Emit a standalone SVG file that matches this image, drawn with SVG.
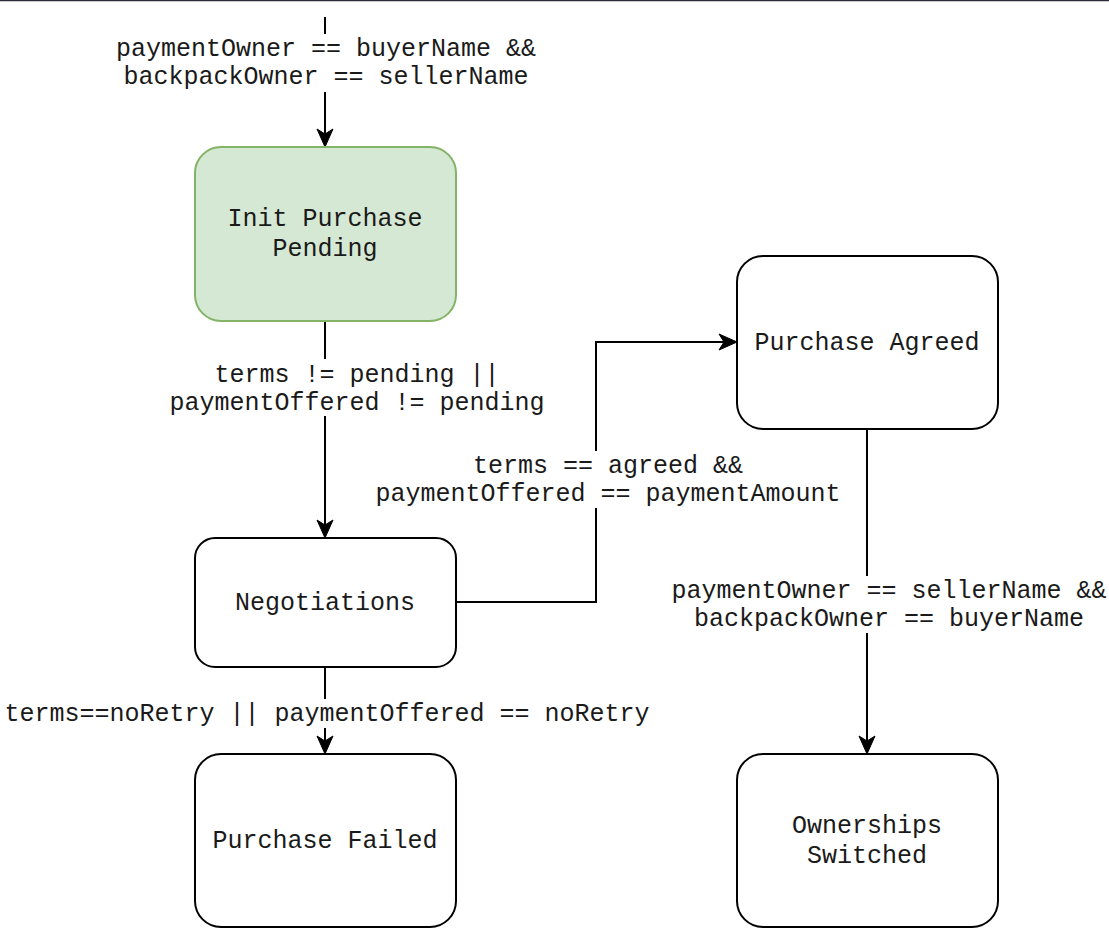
<svg xmlns="http://www.w3.org/2000/svg" width="1109" height="928" viewBox="0 0 1109 928">
<style>
text{font-family:"Liberation Mono","Courier New",monospace;font-size:25px;fill:#1a1a1a;text-anchor:middle}
.node{fill:#ffffff;stroke:#000000;stroke-width:2}
.green{fill:#d5e8d4;stroke:#82b366;stroke-width:2}
.edge{fill:none;stroke:#000000;stroke-width:2}
.lbl{fill:#ffffff;stroke:none}
.head{fill:#000000;stroke:#000000;stroke-width:1}
</style>
<defs>
<path id="ah" d="M0,0 L-8,-18 L0,-13 L8,-18 Z"/>
</defs>
<rect x="0" y="0" width="1109" height="928" fill="#ffffff"/>
<line x1="0" y1="0.5" x2="1109" y2="0.5" stroke="#2b2b3a" stroke-width="1.5"/>
<g id="connectors">
<g id="e-start">
<path class="edge" d="M325,17 L325,136"/>
<use href="#ah" class="head" transform="translate(325,147)"/>
<rect class="lbl" x="110" y="34" width="430" height="58"/>
<text x="326" y="56">paymentOwner == buyerName &amp;&amp;</text>
<text x="326" y="84">backpackOwner == sellerName</text>
</g>
<g id="e-init-neg">
<path class="edge" d="M325,321 L325,527"/>
<use href="#ah" class="head" transform="translate(325,538)"/>
<rect class="lbl" x="165" y="359" width="385" height="57"/>
<text x="357" y="382">terms != pending ||</text>
<text x="357" y="410">paymentOffered != pending</text>
</g>
<g id="e-neg-agreed">
<path class="edge" d="M456,602 L596,602 L596,342 L726,342"/>
<use href="#ah" class="head" transform="translate(737,342) rotate(-90)"/>
<rect class="lbl" x="370" y="451" width="476" height="57"/>
<text x="608" y="473">terms == agreed &amp;&amp;</text>
<text x="608" y="501">paymentOffered == paymentAmount</text>
</g>
<g id="e-neg-failed">
<path class="edge" d="M325,667 L325,743"/>
<use href="#ah" class="head" transform="translate(325,754)"/>
<rect class="lbl" x="0" y="699" width="656" height="29"/>
<text x="327" y="721">terms==noRetry || paymentOffered == noRetry</text>
</g>
<g id="e-agreed-switched">
<path class="edge" d="M867,429 L867,743"/>
<use href="#ah" class="head" transform="translate(867,754)"/>
<rect class="lbl" x="668" y="576" width="441" height="57"/>
<text x="889" y="598">paymentOwner == sellerName &amp;&amp;</text>
<text x="889" y="626">backpackOwner == buyerName</text>
</g>
</g>
<g id="init">
<rect class="green" x="195" y="147" width="261" height="174" rx="26"/>
<text x="325" y="226">Init Purchase</text>
<text x="325" y="256">Pending</text>
</g>
<g id="agreed">
<rect class="node" x="737" y="256" width="261" height="173" rx="26"/>
<text x="867" y="350">Purchase Agreed</text>
</g>
<g id="negotiations">
<rect class="node" x="195" y="538" width="261" height="129" rx="20"/>
<text x="325" y="610">Negotiations</text>
</g>
<g id="failed">
<rect class="node" x="195" y="754" width="261" height="173" rx="26"/>
<text x="325" y="848">Purchase Failed</text>
</g>
<g id="switched">
<rect class="node" x="737" y="754" width="261" height="173" rx="26"/>
<text x="867" y="833">Ownerships</text>
<text x="867" y="863">Switched</text>
</g>
</svg>
